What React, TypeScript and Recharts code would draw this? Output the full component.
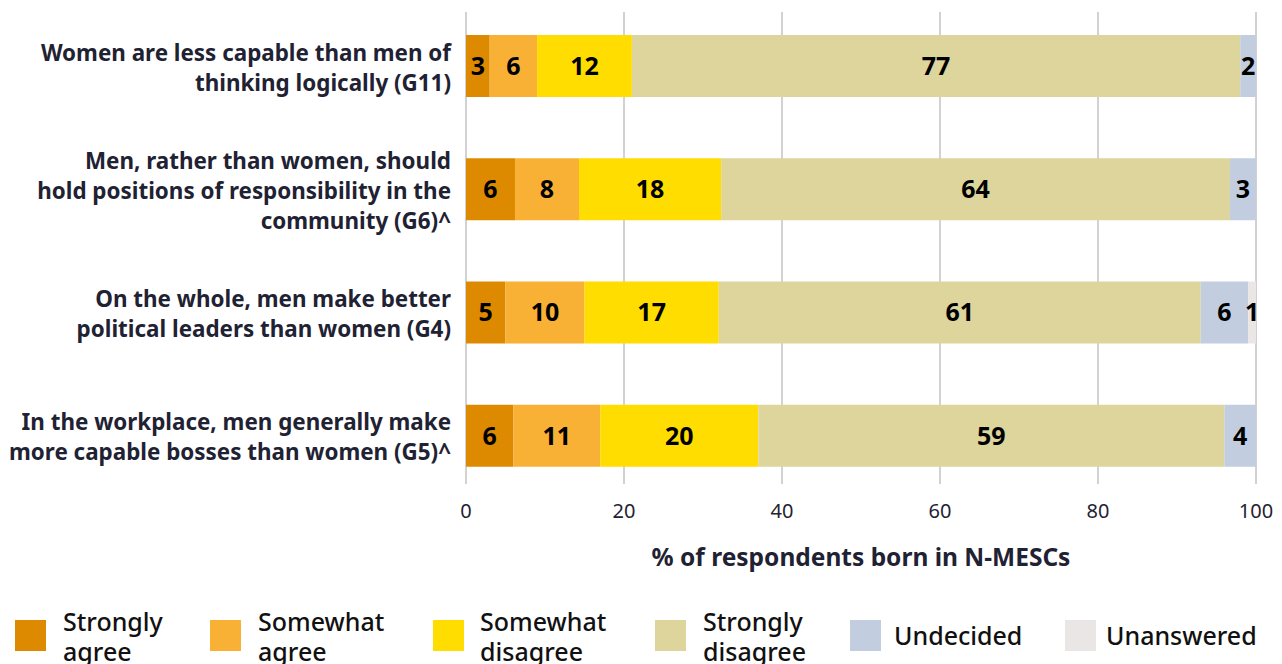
import React from 'react';
import { BarChart, Bar, XAxis, YAxis, CartesianGrid, LabelList } from 'recharts';

const categories = [
  'Women are less capable than men of\nthinking logically (G11)',
  'Men, rather than women, should\nhold positions of responsibility in the\ncommunity (G6)^',
  'On the whole, men make better\npolitical leaders than women (G4)',
  'In the workplace, men generally make\nmore capable bosses than women (G5)^'
];

const stronglyAgree = [3, 6.2, 5, 6];
const somewhatAgree = [6, 8.1, 10, 11];
const somewhatDisagree = [12, 18, 17, 20];
const stronglyDisagree = [77, 64.4, 61, 59];
const undecided = [2, 3.3, 6, 4];
const unanswered = [0, 0, 1, 0];

const xTicks = [0, 20, 40, 60, 80, 100];

const series = [
  { key: 'sa', name: 'Strongly\nagree', color: '#DE8A00', values: stronglyAgree },
  { key: 'wa', name: 'Somewhat\nagree', color: '#F8B135', values: somewhatAgree },
  { key: 'wd', name: 'Somewhat\ndisagree', color: '#FFDD00', values: somewhatDisagree },
  { key: 'sd', name: 'Strongly\ndisagree', color: '#DDD59B', values: stronglyDisagree },
  { key: 'un', name: 'Undecided', color: '#C2CEDF', values: undecided },
  { key: 'na', name: 'Unanswered', color: '#EBE6E6', values: unanswered }
];

const data = categories.map((name, i) => {
  const row: any = { name };
  series.forEach(s => {
    row[s.key] = s.values[i];
  });
  return row;
});

const FONT = '"Noto Sans", "Open Sans", sans-serif';

const CategoryTick = (props: any) => {
  const { x, y, payload } = props;
  const lines = String(payload.value).split('\n');
  const start = -((lines.length - 1) * 30) / 2;
  return (
    <text x={x} y={y} textAnchor="end" fill="#1F2233" fontSize={22.4} fontWeight={700} fontFamily={FONT}>
      {lines.map((l, i) => (
        <tspan key={i} x={x} y={y + 2 + start + i * 30} dy="0.36em">
          {l}
        </tspan>
      ))}
    </text>
  );
};

const GridLine = (props: any) => {
  const { x1, x2, y1, y2 } = props;
  return <line key={props.key ?? x1} x1={x1} x2={x2} y1={y1 + 8} y2={y2 - 13} stroke="#D2D2D2" strokeWidth={2} />;
};

// legend layout: square and text left edges
const swatchLefts = [15, 210, 433, 655, 850, 1065];
const textLefts = [63, 258, 480, 703, 894, 1106];

const Legend = () => (
  <div style={{ position: 'absolute', left: 0, top: 0, width: 1282, height: 664, pointerEvents: 'none' }}>
    {series.map((s, i) => {
      const twoLines = s.name.includes('\n');
      return (
        <React.Fragment key={s.key}>
          <div
            style={{ position: 'absolute', left: swatchLefts[i], top: 620, width: 31, height: 31, background: s.color }}
          />
          <div
            style={{
              position: 'absolute',
              left: textLefts[i],
              top: twoLines ? 606 : 620,
              lineHeight: '30px',
              whiteSpace: 'pre',
              fontFamily: FONT,
              fontSize: 25,
              fontWeight: 500,
              color: '#111'
            }}
          >
            {s.name}
          </div>
        </React.Fragment>
      );
    })}
  </div>
);

export default function App() {
  return (
    <div style={{ position: 'absolute', left: 0, top: 0, width: 1282, height: 664, overflow: 'hidden', background: '#fff' }}>
      <BarChart
        width={1282}
        height={664}
        data={data}
        layout="vertical"
        margin={{ top: 4, right: 26, bottom: 0, left: 0 }}
        barCategoryGap={0}
      >
        <CartesianGrid horizontal={false} vertical={GridLine} />
        <XAxis
          type="number"
          domain={[0, 100]}
          ticks={xTicks}
          height={167}
          tickLine={false}
          axisLine={false}
          tickMargin={1}
          tick={{ fill: '#1F2233', fontSize: 20, fontFamily: FONT }}
          label={{
            value: '% of respondents born in N-MESCs',
            position: 'insideTop',
            offset: 52,
            fill: '#1F2233',
            fontSize: 24.5,
            fontWeight: 700,
            fontFamily: FONT
          }}
        />
        <YAxis
          type="category"
          dataKey="name"
          width={466}
          tickLine={false}
          axisLine={false}
          tickSize={0}
          tickMargin={15}
          tick={<CategoryTick />}
        />
        {series.map(s => (
          <Bar key={s.key} dataKey={s.key} stackId="a" fill={s.color} barSize={62} isAnimationActive={false}>
            <LabelList
              dataKey={s.key}
              position="center"
              formatter={(v: any) => (v ? Math.round(Number(v)) : '')}
              fill="#000"
              fontSize={25}
              fontWeight={700}
              fontFamily={FONT}
            />
          </Bar>
        ))}
      </BarChart>
      <Legend />
    </div>
  );
}
